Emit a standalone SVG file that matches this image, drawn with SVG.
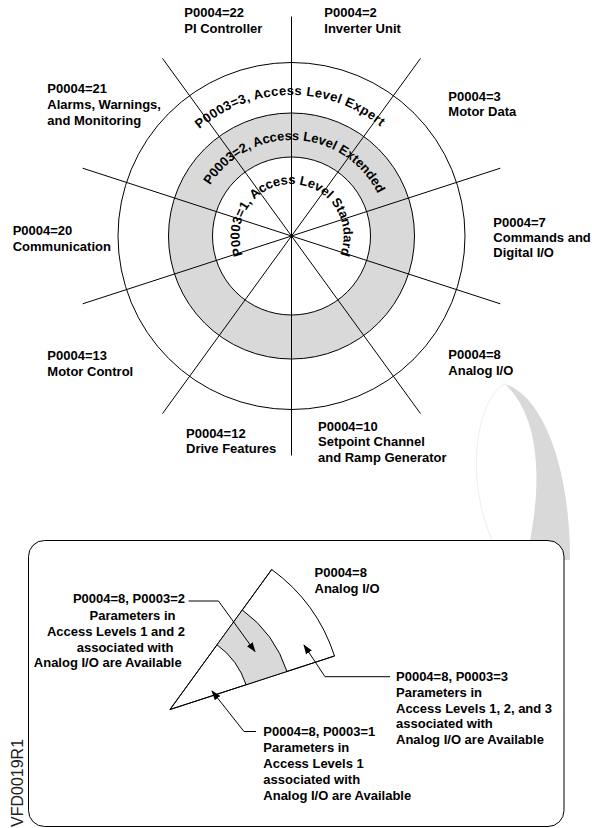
<svg xmlns="http://www.w3.org/2000/svg" width="592" height="828" viewBox="0 0 592 828">
<defs>
<style>
.lbl{font-family:"Liberation Sans",Arial,sans-serif;font-size:13px;font-weight:bold;fill:#000}
.arc{font-family:"Liberation Sans",Arial,sans-serif;font-size:13px;font-weight:bold;fill:#000}
.ln{stroke:#000;stroke-width:1;fill:none}
.gray{fill:#d9d9d9}
</style>
<marker id="ah" markerUnits="userSpaceOnUse" markerWidth="10" markerHeight="7" refX="9" refY="3.5" orient="auto">
<path d="M0,0 L10,3.5 L0,7 z" fill="#000"/>
</marker>
<path id="p1" d="M291.5,288 A52 52 0 1 1 291.5,184 A52 52 0 1 1 291.5,288"/>
<path id="p2" d="M291.5,332 A96 96 0 1 1 291.5,140 A96 96 0 1 1 291.5,332"/>
<path id="p3" d="M291.5,377 A141 141 0 1 1 291.5,95 A141 141 0 1 1 291.5,377"/>
</defs>
<rect width="592" height="828" fill="#fff"/>

<!-- callout cone -->
<g id="callout">
<path class="gray" d="M505,384 C540,395 570,460 570,560 L526,560 C542,490 543,420 505,384 Z"/>
<path d="M505,384 C480,395 462,470 492,540" fill="none" stroke="#eeeeee" stroke-width="1"/>
</g>

<!-- main wheel -->
<g id="wheel">
<circle cx="291.5" cy="236" r="173.5" fill="#fff" class="ln"/>
<circle cx="291.5" cy="236" r="123" class="gray" stroke="#000" stroke-width="1"/>
<circle cx="291.5" cy="236" r="79" fill="#fff" stroke="#000" stroke-width="1"/>
</g>

<g id="spokes">
<line class="ln" x1="291.5" y1="16.5" x2="291.5" y2="455.5"/>
<line class="ln" x1="420.5" y1="58.4" x2="162.5" y2="413.6"/>
<line class="ln" x1="500.3" y1="168.2" x2="82.7" y2="303.8"/>
<line class="ln" x1="500.3" y1="303.8" x2="82.7" y2="168.2"/>
<line class="ln" x1="420.5" y1="413.6" x2="162.5" y2="58.4"/>
</g>

<g id="levels">
<text class="arc"><textPath href="#p1" startOffset="50%" text-anchor="middle">P0003=1, Access Level Standard</textPath></text>
<text class="arc"><textPath href="#p2" startOffset="50.8%" text-anchor="middle">P0003=2, Access Level Extended</textPath></text>
<text class="arc" letter-spacing="0.4"><textPath href="#p3" startOffset="49.8%" text-anchor="middle">P0003=3, Access Level Expert</textPath></text>
</g>

<g id="sector-labels">
<g id="s22"><text class="lbl" x="184.3" y="17.3">P0004=22</text><text class="lbl" x="184.3" y="32.5">PI Controller</text></g>
<g id="s2"><text class="lbl" x="324.3" y="17.3">P0004=2</text><text class="lbl" x="324.3" y="32.5">Inverter Unit</text></g>
<g id="s21"><text class="lbl" x="47.3" y="93.3">P0004=21</text><text class="lbl" x="47.3" y="109.3">Alarms, Warnings,</text><text class="lbl" x="47.3" y="125">and Monitoring</text></g>
<g id="s3"><text class="lbl" x="448.3" y="100.5">P0004=3</text><text class="lbl" x="448.3" y="116">Motor Data</text></g>
<g id="s20"><text class="lbl" x="12.7" y="235">P0004=20</text><text class="lbl" x="12.7" y="250.5">Communication</text></g>
<g id="s7"><text class="lbl" x="493.3" y="226.7">P0004=7</text><text class="lbl" x="493.3" y="242">Commands and</text><text class="lbl" x="493.3" y="257.3">Digital I/O</text></g>
<g id="s13"><text class="lbl" x="47.3" y="360">P0004=13</text><text class="lbl" x="47.3" y="375.5">Motor Control</text></g>
<g id="s8"><text class="lbl" x="448.3" y="359">P0004=8</text><text class="lbl" x="448.3" y="375">Analog I/O</text></g>
<g id="s12"><text class="lbl" x="186" y="437.5">P0004=12</text><text class="lbl" x="186" y="453">Drive Features</text></g>
<g id="s10"><text class="lbl" x="318" y="430.5">P0004=10</text><text class="lbl" x="318" y="446">Setpoint Channel</text><text class="lbl" x="318" y="461.5">and Ramp Generator</text></g>
</g>

<!-- detail box -->
<g id="detail-box">
<rect x="28.5" y="540.5" width="535.5" height="286" rx="16" ry="16" fill="#fff" stroke="#000" stroke-width="1"/>
</g>

<g id="wedge">
<path d="M170,709.5 L271.7,569.5 A173 173 0 0 1 334.5,656 Z" fill="#fff" stroke="#000" stroke-width="1"/>
<path class="gray" d="M242.3,610 A123 123 0 0 1 287,671.5 L246.1,684.8 A80 80 0 0 0 217,644.8 Z"/>
<path class="ln" d="M242.3,610 A123 123 0 0 1 287,671.5"/>
<path class="ln" d="M217,644.8 A80 80 0 0 1 246.1,684.8"/>
<path class="ln" d="M170,709.5 L271.7,569.5 M170,709.5 L334.5,656"/>
<text class="lbl" x="314.5" y="576.7">P0004=8</text>
<text class="lbl" x="314.5" y="592.7">Analog I/O</text>
</g>

<g id="connectors">
<path class="ln" d="M188.5,601 L218.5,601 L255,651.5" marker-end="url(#ah)"/>
<path class="ln" d="M256,731.5 L244,731.5 L212,691" marker-end="url(#ah)"/>
<path class="ln" d="M390,676.7 L325,676.7 L304,645" marker-end="url(#ah)"/>
</g>

<g id="note-l2">
<text class="lbl" text-anchor="end" x="185" y="603.3">P0004=8, P0003=2</text>
<text class="lbl" text-anchor="end" x="175.5" y="619.5">Parameters in</text>
<text class="lbl" text-anchor="end" x="185" y="635.5">Access Levels 1 and 2</text>
<text class="lbl" text-anchor="end" x="173.5" y="651.5">associated with</text>
<text class="lbl" text-anchor="end" x="181.7" y="667.3">Analog I/O are Available</text>
</g>
<g id="note-l3">
<text class="lbl" x="396" y="680.7">P0004=8, P0003=3</text>
<text class="lbl" x="396" y="696.7">Parameters in</text>
<text class="lbl" x="396" y="712.7">Access Levels 1, 2, and 3</text>
<text class="lbl" x="396" y="728.3">associated with</text>
<text class="lbl" x="396" y="744.3">Analog I/O are Available</text>
</g>
<g id="note-l1">
<text class="lbl" x="263.3" y="736">P0004=8, P0003=1</text>
<text class="lbl" x="263.3" y="752">Parameters in</text>
<text class="lbl" x="263.3" y="768">Access Levels 1</text>
<text class="lbl" x="263.3" y="784">associated with</text>
<text class="lbl" x="263.3" y="800">Analog I/O are Available</text>
</g>

<text transform="translate(23,827) rotate(-90)" font-family="'Liberation Sans',Arial,sans-serif" font-size="16" fill="#222">VFD0019R1</text>
</svg>
